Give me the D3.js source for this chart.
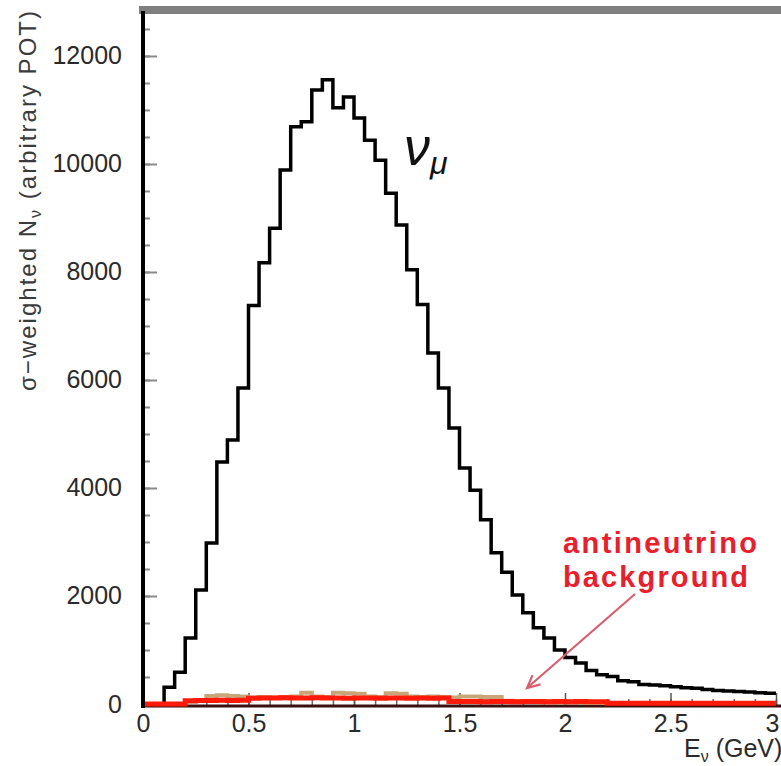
<!DOCTYPE html>
<html>
<head>
<meta charset="utf-8">
<script src="https://cdn.jsdelivr.net/npm/d3@7"></script>
<style>
  html, body { margin: 0; padding: 0; background: #fff; }
  svg { display: block; }
  text { font-family: "Liberation Sans", Arial, Helvetica, sans-serif; }
</style>
</head>
<body>
<svg id="chart" width="781" height="766"></svg>
<script>
// Energy bin edges (GeV), 0.05 GeV wide
const binEdges = [
  0.00, 0.05, 0.10, 0.15, 0.20, 0.25, 0.30, 0.35, 0.40, 0.45,
  0.50, 0.55, 0.60, 0.65, 0.70, 0.75, 0.80, 0.85, 0.90, 0.95,
  1.00, 1.05, 1.10, 1.15, 1.20, 1.25, 1.30, 1.35, 1.40, 1.45,
  1.50, 1.55, 1.60, 1.65, 1.70, 1.75, 1.80, 1.85, 1.90, 1.95,
  2.00, 2.05, 2.10, 2.15, 2.20, 2.25, 2.30, 2.35, 2.40, 2.45,
  2.50, 2.55, 2.60, 2.65, 2.70, 2.75, 2.80, 2.85, 2.90, 2.95,
  3.00
];

// nu_mu cross-section weighted counts per bin
const numuCounts = [
  0, 0, 310, 590, 1220, 2110, 2980, 4480, 4890, 5850,
  7380, 8170, 8810, 9890, 10690, 10780, 11370, 11560, 11040, 11240,
  10850, 10440, 10070, 9460, 8870, 8040, 7400, 6500, 5850, 5110,
  4370, 3960, 3410, 2800, 2440, 2020, 1690, 1410, 1220, 1000,
  860, 760, 620, 540, 510, 430, 410, 360, 350, 340,
  320, 300, 290, 270, 250, 240, 230, 220, 210, 200
];

// wrong-sign component (tan)
const wrongSignCounts = [
  0, 0, 0, 0, 40, 60, 150, 160, 150, 140,
  120, 130, 120, 130, 140, 210, 140, 130, 210, 200,
  190, 140, 130, 200, 190, 140, 130, 140, 130, 120,
  140, 140, 130, 130, 60, 50, 40, 40, 30, 30,
  30, 30, 20, 20, 20, 20, 20, 20, 20, 20,
  20, 20, 20, 20, 20, 20, 20, 20, 20, 20
];

// antineutrino background (red)
const antinuCounts = [
  0, 0, 0, 0, 60, 65, 65, 70, 65, 70,
  105, 110, 110, 115, 110, 110, 115, 110, 110, 105,
  110, 110, 105, 110, 110, 105, 110, 105, 110, 45,
  45, 45, 40, 45, 45, 40, 45, 45, 40, 45,
  40, 45, 40, 40, 15, 15, 15, 15, 15, 15,
  15, 15, 15, 15, 15, 15, 15, 15, 15, 15
];

const yMajorTicks = [0, 2000, 4000, 6000, 8000, 10000, 12000];
const yTickLabels = ["0", "2000", "4000", "6000", "8000", "10000", "12000"];
const yMinorTicks = d3.range(0, 12870, 500);
const xMajorTicks = [0, 0.5, 1, 1.5, 2, 2.5, 3];
const xTickLabels = ["0", "0.5", "1", "1.5", "2", "2.5", "3"];
const xMinorTicks = d3.range(0, 3.001, 0.1);

const svg = d3.select("#chart");

const x = d3.scaleLinear().domain([0, 3]).range([143, 776]);
const y = d3.scaleLinear().domain([0, 12870]).range([704, 9]);

// step outline of a histogram, starting from the first filled bin
function stepPoints(counts) {
  const k = counts.findIndex(v => v > 0);
  const pts = [[binEdges[k], 0]];
  for (let i = k; i < counts.length; i++) pts.push([binEdges[i], counts[i]]);
  pts.push([binEdges[counts.length], counts[counts.length - 1]]);
  return pts;
}
const step = d3.line()
  .x(d => x(d[0]))
  .y(d => y(d[1]))
  .curve(d3.curveStepAfter);

// top frame
svg.append("rect")
  .attr("x", 139).attr("y", 6)
  .attr("width", 781 - 139).attr("height", 8)
  .attr("fill", "#808080");

// y axis ticks (inside) and labels (outside)
const yMinor = d3.axisLeft(y).tickValues(yMinorTicks).tickSize(-5).tickFormat("");
svg.append("g").attr("transform", "translate(145,0)").call(yMinor)
  .call(g => g.select(".domain").remove())
  .call(g => g.selectAll("line").attr("stroke", "#8a8a8a").attr("stroke-width", 2));

const yMajor = d3.axisLeft(y).tickValues(yMajorTicks)
  .tickSize(-12).tickPadding(23)
  .tickFormat((d, i) => yTickLabels[i]);
svg.append("g").attr("transform", "translate(145,0)").call(yMajor)
  .call(g => g.select(".domain").remove())
  .call(g => g.selectAll("line").attr("stroke", "#8a8a8a").attr("stroke-width", 2))
  .call(g => g.selectAll("text")
    .attr("font-size", 25)
    .attr("font-family", "Liberation Sans, Arial, sans-serif")
    .attr("fill", "#2a2a2a"));

// x axis ticks and labels
const xMinor = d3.axisBottom(x).tickValues(xMinorTicks).tickSize(-6).tickFormat("");
svg.append("g").attr("transform", "translate(0,705)").call(xMinor)
  .call(g => g.select(".domain").remove())
  .call(g => g.selectAll("line").attr("stroke", "#666").attr("stroke-width", 1.5));

const xMajor = d3.axisBottom(x).tickValues(xMajorTicks)
  .tickSize(-12).tickPadding(9)
  .tickFormat((d, i) => xTickLabels[i]);
svg.append("g").attr("transform", "translate(0,705)").call(xMajor)
  .call(g => g.select(".domain").remove())
  .call(g => g.selectAll("line").attr("stroke", "#555").attr("stroke-width", 1.5))
  .call(g => g.selectAll("text")
    .attr("font-size", 25)
    .attr("font-family", "Liberation Sans, Arial, sans-serif")
    .attr("fill", "#2a2a2a")
    .attr("dx", d => d === 3 ? -4 : 0));

// nu_mu spectrum
svg.append("path")
  .attr("d", step(stepPoints(numuCounts)))
  .attr("fill", "none")
  .attr("stroke", "#000")
  .attr("stroke-width", 3.5)
  .attr("stroke-linejoin", "miter");

// x axis line
svg.append("line")
  .attr("x1", 141).attr("x2", 781)
  .attr("y1", 706).attr("y2", 706)
  .attr("stroke", "#3a1010").attr("stroke-width", 3);

// wrong-sign component
svg.append("path")
  .attr("d", step(stepPoints(wrongSignCounts)))
  .attr("fill", "none")
  .attr("stroke", "#c8a67a")
  .attr("stroke-width", 4);

// antineutrino background, running along the axis below its first filled bin
svg.append("path")
  .attr("d", step([[0, 0]].concat(stepPoints(antinuCounts))))
  .attr("fill", "none")
  .attr("stroke", "#ff1a0a")
  .attr("stroke-width", 5);

// y axis line
svg.append("line")
  .attr("x1", 143).attr("x2", 143)
  .attr("y1", 11).attr("y2", 708)
  .attr("stroke", "#000").attr("stroke-width", 4);

// axis titles
const yTitle = svg.append("text")
  .attr("transform", "translate(36,201) rotate(-90)")
  .attr("text-anchor", "middle")
  .attr("font-size", 24)
  .attr("fill", "#3a3a3a")
  .attr("textLength", 380)
  .attr("lengthAdjust", "spacing");
yTitle.append("tspan").text("\u03c3\u2212weighted N");
yTitle.append("tspan").attr("font-size", 16).attr("dy", 5).text("\u03bd");
yTitle.append("tspan").attr("dy", -5).text(" (arbitrary POT)");

const xTitle = svg.append("text")
  .attr("x", 684).attr("y", 757)
  .attr("font-size", 25)
  .attr("fill", "#2a2a2a");
xTitle.append("tspan").text("E");
xTitle.append("tspan").attr("font-size", 16).attr("dy", 5).text("\u03bd");
xTitle.append("tspan").attr("dy", -5).text(" (GeV)");

// nu_mu label
const nuLabel = svg.append("text")
  .attr("x", 404).attr("y", 165)
  .attr("font-family", "Liberation Serif, Times New Roman, serif")
  .attr("font-style", "italic")
  .attr("font-size", 52)
  .attr("fill", "#111");
nuLabel.append("tspan").text("\u03bd");
nuLabel.append("tspan").attr("font-size", 32).attr("dy", 9).text("\u03bc");

// antineutrino annotation
svg.append("text")
  .attr("x", 563).attr("y", 553)
  .attr("font-size", 29).attr("font-weight", "bold")
  .attr("fill", "#e8202c")
  .attr("textLength", 194).attr("lengthAdjust", "spacing")
  .text("antineutrino");
svg.append("text")
  .attr("x", 563).attr("y", 587)
  .attr("font-size", 29).attr("font-weight", "bold")
  .attr("fill", "#e8202c")
  .attr("textLength", 185).attr("lengthAdjust", "spacing")
  .text("background");

// arrow to the background histogram
const ax0 = 635, ay0 = 594, ax1 = 527, ay1 = 688;
const ang = Math.atan2(ay1 - ay0, ax1 - ax0);
const hl = 14, ha = 0.45;
svg.append("path")
  .attr("d",
    "M" + ax0 + "," + ay0 + "L" + ax1 + "," + ay1 +
    "M" + (ax1 - hl * Math.cos(ang - ha)) + "," + (ay1 - hl * Math.sin(ang - ha)) +
    "L" + ax1 + "," + ay1 +
    "L" + (ax1 - hl * Math.cos(ang + ha)) + "," + (ay1 - hl * Math.sin(ang + ha)))
  .attr("fill", "none")
  .attr("stroke", "#d8606e")
  .attr("stroke-width", 2.2);
</script>
</body>
</html>
